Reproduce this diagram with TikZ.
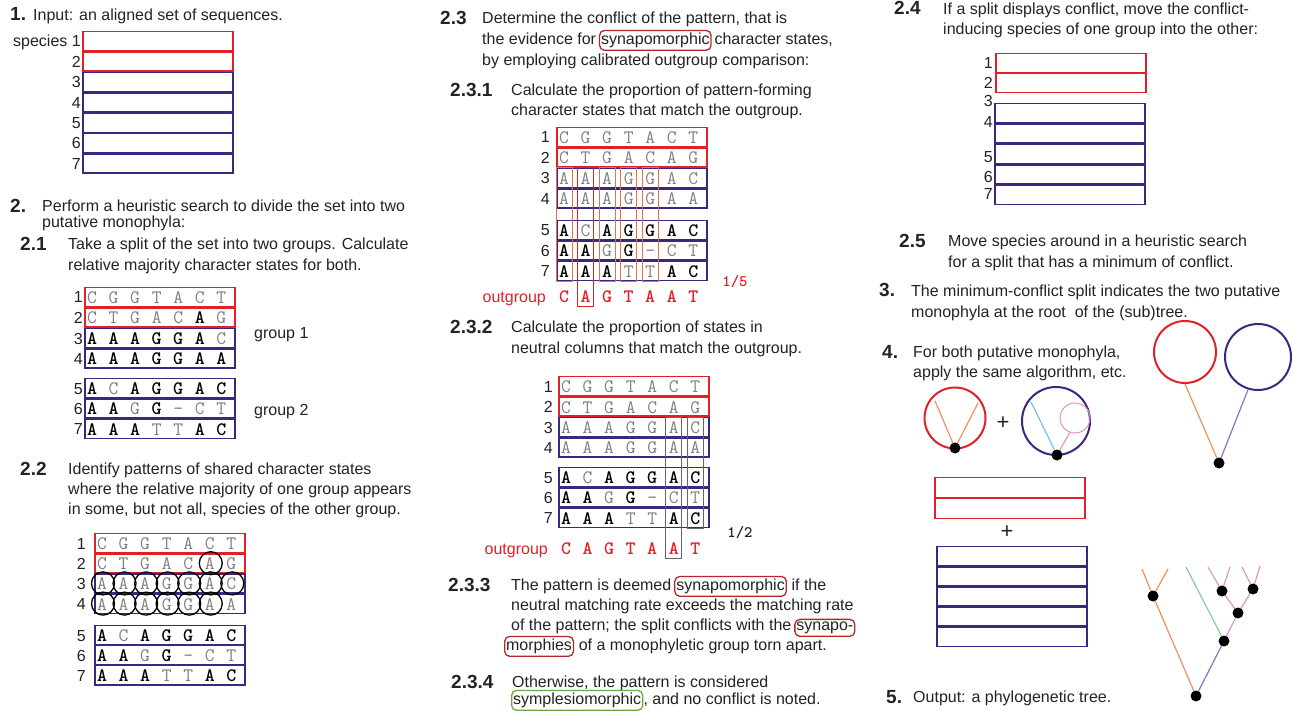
\documentclass[tikz,border=0pt]{standalone}
\usepackage{fontspec}
\setmainfont{Liberation Sans}
\definecolor{grpred}{RGB}{226,32,40}
\definecolor{grpblue}{RGB}{58,40,128}
\definecolor{synred}{RGB}{180,40,45}
\definecolor{symgreen}{RGB}{105,170,60}
\definecolor{colorange}{RGB}{236,112,72}
\definecolor{colred}{RGB}{210,40,35}
\definecolor{brorange}{RGB}{240,145,95}
\definecolor{brpurple}{RGB}{140,115,190}
\definecolor{brpink}{RGB}{222,150,195}
\definecolor{brgreen}{RGB}{140,205,155}
\definecolor{brblue}{RGB}{120,195,235}
\definecolor{ink}{RGB}{35,35,35}

\tikzset{
  txt/.style={anchor=base west, inner sep=0pt, text=ink, font=\fontsize{16}{18}\selectfont},
  hd/.style={anchor=base west, inner sep=0pt, text=ink, font=\bfseries\fontsize{19}{21}\selectfont},
  numlab/.style={anchor=base east, inner sep=0pt, text=ink, font=\fontsize{16}{18}\selectfont},
  normch/.style={anchor=base, inner sep=0pt, text=black!50, font=\ttfamily\fontsize{19}{20}\selectfont},
  boldch/.style={anchor=base, inner sep=0pt, text=black, font=\ttfamily\bfseries\fontsize{19}{20}\selectfont},
  chs/.code={\ifnum#1=1 \tikzset{boldch}\else\tikzset{normch}\fi},
  outch/.style={boldch, text=grpred},
  ratio/.style={anchor=center, inner sep=0pt, font=\ttfamily\bfseries\fontsize{16}{16}\selectfont},
  rowframe/.style={line width=1.7pt},
  wbox/.style={draw=synred, line width=1.3pt, rounded corners=5pt, anchor=base west,
    inner xsep=1.5pt, inner ysep=2.5pt, text=ink, font=\fontsize{16}{18}\selectfont},
  colbox/.style={draw=colorange, line width=1pt},
  graybox/.style={draw=black!60, line width=1pt},
  circ/.style={draw=black, line width=1.3pt},
  br/.style={line width=1.2pt},
  dot/.style={fill=black},
  plus/.style={anchor=center, inner sep=0pt, text=ink, font=\fontsize{22}{22}\selectfont},
}

% character rows: letter/bold-flag
\def\alnA{C/0,G/0,G/0,T/0,A/0,C/0,T/0}
\def\alnB{C/0,T/0,G/0,A/0,C/0,A/0,G/0}
\def\alnBb{C/0,T/0,G/0,A/0,C/0,A/1,G/0}
\def\alnC{A/0,A/0,A/0,G/0,G/0,A/0,C/0}
\def\alnCb{A/1,A/1,A/1,G/1,G/1,A/1,C/0}
\def\alnD{A/0,A/0,A/0,G/0,G/0,A/0,A/0}
\def\alnDb{A/1,A/1,A/1,G/1,G/1,A/1,A/1}
\def\alnE{A/1,C/0,A/1,G/1,G/1,A/1,C/1}
\def\alnF{A/1,A/1,G/0,G/1,-/0,C/0,T/0}
\def\alnG{A/1,A/1,A/1,T/0,T/0,A/1,C/1}

% one framed row; frames of neighbouring rows sit side by side
% #1 left, #2 top, #3 frame colour, #4 number x, #5 number, #6 row list, #7 name prefix
\newcommand\seqrow[7]{%
  \draw[rowframe, draw=#3] (#1,#2+0.6) rectangle ++(150,19.2);
  \node[numlab] (#7n#5) at (#4,#2+16) {#5};
  \foreach \ltr/\flg [count=\k from 0] in #6 {
    \node[chs=\flg] (#7r#5c\k) at (#1+7+21.55*\k,#2+16.5) {\ltr};
  }%
}
% #1 left of alignment, #2 baseline, #3 label right end, #4 name
\newcommand\outrow[4]{%
  \node[txt, anchor=base east, text=grpred] (#4) at (#3,#2) {outgroup};
  \foreach \ltr [count=\k from 0] in {C,A,G,T,A,A,T} {
    \node[outch] (#4c\k) at (#1+7+21.55*\k,#2) {\ltr};
  }%
}
% plain frame rows: #1 left, #2 colour, #3 height, #4 list of tops
\newcommand\framerows[4]{%
  \foreach \top in {#4}
    \draw[rowframe, draw=#2] (#1,\top+0.6) rectangle ++(150,#3-1.2);
}

\begin{document}
\begin{tikzpicture}[x=1pt,y=-1pt]
\useasboundingbox (0,0) rectangle (1293,711);
\fill[white] (0,0) rectangle (1293,711);

% ---------- 1. input
\node[hd] (s1) at (10,21) {1.};
\node[txt] (s1t) at (33,20.5) {Input: an aligned set of sequences.};
\framerows{83}{grpred}{20.4}{31,51.4}
\framerows{83}{grpblue}{20.4}{71.8,92.2,112.6,133,153.4}
\foreach \top [count=\r] in {31,51.4,71.8,92.2,112.6,133,153.4}
  \node[numlab] (s1n\r) at (81,\top+16) {\ifnum\r=1 species 1\else\r\fi};

% ---------- 2. heuristic search
\node[hd] (s2) at (10,212.5) {2.};
\node[txt] (s2a) at (42,211.5) {Perform a heuristic search to divide the set into two};
\node[txt] (s2b) at (42,227.5) {putative monophyla:};

% 2.1
\node[hd] (s21) at (20,250.5) {2.1};
\node[txt] (s21a) at (68,249.5) {Take a split of the set into two groups. Calculate};
\node[txt] (s21b) at (68,270.5) {relative majority character states for both.};
\seqrow{85}{287}{grpred}{83}{1}{\alnA}{a}
\seqrow{85}{307.4}{grpred}{83}{2}{\alnBb}{a}
\seqrow{85}{328}{grpblue}{83}{3}{\alnCb}{a}
\seqrow{85}{348.4}{grpblue}{83}{4}{\alnDb}{a}
\seqrow{85}{378}{grpblue}{83}{5}{\alnE}{a}
\seqrow{85}{398.4}{grpblue}{83}{6}{\alnF}{a}
\seqrow{85}{418.8}{grpblue}{83}{7}{\alnG}{a}
\node[txt] (g1) at (254,338.5) {group 1};
\node[txt] (g2) at (254,415.5) {group 2};

% 2.2
\node[hd] (s22) at (20,475.5) {2.2};
\node[txt] (s22a) at (68,474.5) {Identify patterns of shared character states};
\node[txt] (s22b) at (68,494.5) {where the relative majority of one group appears};
\node[txt] (s22c) at (68,514.5) {in some, but not all, species of the other group.};
\seqrow{95}{533}{grpred}{86}{1}{\alnA}{b}
\seqrow{95}{553.2}{grpred}{86}{2}{\alnB}{b}
\seqrow{95}{573.4}{grpblue}{86}{3}{\alnC}{b}
\seqrow{95}{593.6}{grpblue}{86}{4}{\alnD}{b}
\seqrow{95}{625}{grpblue}{86}{5}{\alnE}{b}
\seqrow{95}{645}{grpblue}{86}{6}{\alnF}{b}
\seqrow{95}{665}{grpblue}{86}{7}{\alnG}{b}
\draw[circ] (95+7+21.55*5+1,553.2+10) circle (11.5);
\foreach \k in {0,...,6} \draw[circ] (95+7+21.55*\k+1,573.4+10) circle (11.5);
\foreach \k in {0,...,5} \draw[circ] (95+7+21.55*\k+1,593.6+10) circle (11.5);

% ---------- 2.3 conflict
\node[hd] (s23) at (440,24.5) {2.3};
\node[txt] (s23a) at (482,23.5) {Determine the conflict of the pattern, that is};
\node[txt] (s23b) at (482,44.5) {the evidence for\,};
\node[wbox] (w23) at (s23b.base east) {synapomorphic};
\node[txt] (s23c) at (w23.base east) {\,character states,};
\node[txt] (s23d) at (482,65.5) {by employing calibrated outgroup comparison:};

% 2.3.1
\node[hd] (s231) at (450,96.5) {2.3.1};
\node[txt] (s231a) at (511,95.5) {Calculate the proportion of pattern-forming};
\node[txt] (s231b) at (511,115.5) {character states that match the outgroup.};
\seqrow{557}{127}{grpred}{550}{1}{\alnA}{c}
\seqrow{557}{147.5}{grpred}{550}{2}{\alnB}{c}
\seqrow{557}{168}{grpblue}{550}{3}{\alnC}{c}
\seqrow{557}{188.4}{grpblue}{550}{4}{\alnD}{c}
\seqrow{557}{220}{grpblue}{550}{5}{\alnE}{c}
\seqrow{557}{240.4}{grpblue}{550}{6}{\alnF}{c}
\seqrow{557}{260.8}{grpblue}{550}{7}{\alnG}{c}
\foreach \k in {0,2,3,4}
  \draw[colbox] (564+21.55*\k-8,168) rectangle (564+21.55*\k+8,281.2);
\draw[colbox, draw=colred] (564+21.55-8,168) rectangle (564+21.55+8,307);
\outrow{557}{303}{546}{og1}
\node[ratio, text=grpred] (r15) at (735,282) {1/5};

% 2.3.2
\node[hd] (s232) at (450,333.5) {2.3.2};
\node[txt] (s232a) at (511,332.5) {Calculate the proportion of states in};
\node[txt] (s232b) at (511,353.5) {neutral columns that match the outgroup.};
\seqrow{559}{376}{grpred}{553}{1}{\alnA}{d}
\seqrow{559}{396.5}{grpred}{553}{2}{\alnB}{d}
\seqrow{559}{417}{grpblue}{553}{3}{\alnC}{d}
\seqrow{559}{437.4}{grpblue}{553}{4}{\alnD}{d}
\seqrow{559}{467}{grpblue}{553}{5}{\alnE}{d}
\seqrow{559}{487.4}{grpblue}{553}{6}{\alnF}{d}
\seqrow{559}{507.8}{grpblue}{553}{7}{\alnG}{d}
\draw[graybox] (566+21.55*5-8,417) rectangle ++(16,141);
\draw[graybox] (566+21.55*6-8,417) rectangle ++(16,111.2);
\outrow{559}{554}{548}{og2}
\node[ratio, text=ink] (r12) at (740,533) {1/2};

% 2.3.3
\node[hd] (s233) at (448,591.5) {2.3.3};
\node[txt] (s233a) at (511,590.5) {The pattern is deemed\,};
\node[wbox] (w233a) at (s233a.base east) {synapomorphic};
\node[txt] (s233b) at (w233a.base east) {\ if the};
\node[txt] (s233c) at (511,610.5) {neutral matching rate exceeds the matching rate};
\node[txt] (s233d) at (511,630.5) {of the pattern; the split conflicts with the\,};
\node[wbox] (w233b) at (s233d.base east) {synapo-};
\node[wbox] (w233c) at (504,650.5) {morphies};
\node[txt] (s233e) at (w233c.base east) {\ of a monophyletic group torn apart.};

% 2.3.4
\node[hd] (s234) at (451,688) {2.3.4};
\node[txt] (s234a) at (512,687) {Otherwise, the pattern is considered};
\node[wbox, draw=symgreen] (w234) at (511,704.5) {symplesiomorphic};
\node[txt] (s234b) at (w234.base east) {, and no conflict is noted.};

% ---------- 2.4 moving species
\node[hd] (s24) at (894,15) {2.4};
\node[txt] (s24a) at (943,14.5) {If a split displays conflict, move the conflict-};
\node[txt] (s24b) at (943,34.5) {inducing species of one group into the other:};
\framerows{996}{grpred}{20}{53,73}
\framerows{995}{grpblue}{20.4}{103,123.4,143.8,164.2,184.6}
\foreach \y [count=\r] in {63,83,101,122,157,177,194}
  \node[numlab] (s24n\r) at (993,\y+5.5) {\r};

% 2.5
\node[hd] (s25) at (899,247.5) {2.5};
\node[txt] (s25a) at (948,246.5) {Move species around in a heuristic search};
\node[txt] (s25b) at (948,267.5) {for a split that has a minimum of conflict.};

% ---------- 3.
\node[hd] (s3) at (879,297) {3.};
\node[txt] (s3a) at (911,296.5) {The minimum-conflict split indicates the two putative};
\node[txt] (s3b) at (911,317.5) {monophyla at the root\ \ of the (sub)tree.};

% ---------- 4.
\node[hd] (s4) at (882,358.5) {4.};
\node[txt] (s4a) at (913,357.5) {For both putative monophyla,};
\node[txt] (s4b) at (913,377.5) {apply the same algorithm, etc.};

% two monophyla, each with its own split
\node[draw=grpred, line width=2pt, circle, minimum size=61pt, inner sep=0pt] (cr) at (955,418) {};
\coordinate (crd) at (955,448);
\coordinate (cra) at (935,401);
\coordinate (crb) at (978,403);
\draw[br, brorange] (crd) -- (cra);
\draw[br, brorange] (crd) -- (crb);
\fill[dot] (crd) circle (5.5);
\node[plus] (p4a) at (1003,423) {+};
\node[draw=grpblue, line width=2pt, circle, minimum size=68pt, inner sep=0pt] (cb) at (1056,421) {};
\node[draw=brpink, line width=1pt, circle, minimum size=30pt, inner sep=0pt] (cp) at (1075,418) {};
\coordinate (cbd) at (1057,455);
\coordinate (cba) at (1031,402);
\draw[br, brblue] (cbd) -- (cba);
\draw[br, brpink] (cbd) -- (cp.-110);
\fill[dot] (cbd) circle (5.5);

% the root split
\node[draw=grpred, line width=2pt, circle, minimum size=62pt, inner sep=0pt] (bigr) at (1185,352) {};
\node[draw=grpblue, line width=2pt, circle, minimum size=66pt, inner sep=0pt] (bigb) at (1258,357) {};
\coordinate (bigd) at (1219,463);
\draw[br, brorange] (bigd) -- (bigr.south);
\draw[br, brpurple] (bigd) -- (bigb.-107);
\fill[dot] (bigd) circle (5.5);

% split alignments
\framerows{935}{grpred}{21}{477,498}
\node[plus] (p4b) at (1007,532) {+};
\framerows{937}{grpblue}{20.2}{546,566.2,586.4,606.6,626.8}

% ---------- 5. output tree
\node[hd] (s5) at (886,703.5) {5.};
\node[txt] (s5a) at (913,702.5) {Output: a phylogenetic tree.};
\coordinate (rt) at (1196,696);
\coordinate (ta) at (1153,596);
\coordinate (la1) at (1142,569);
\coordinate (la2) at (1168,569);
\coordinate (tb) at (1224,641);
\coordinate (lg) at (1186,567);
\coordinate (tc) at (1238,613);
\coordinate (td) at (1222,591);
\coordinate (te) at (1253,589);
\coordinate (ld1) at (1208,567);
\coordinate (ld2) at (1230,567);
\coordinate (le1) at (1242,567);
\coordinate (le2) at (1260,566);
\draw[br, brorange] (rt) -- (ta) -- (la1);
\draw[br, brorange] (ta) -- (la2);
\draw[br, brpurple] (rt) -- (tb);
\draw[br, brgreen] (tb) -- (lg);
\draw[br, brpink] (tb) -- (tc) -- (td) -- (ld1);
\draw[br, brpink] (td) -- (ld2);
\draw[br, brpink] (tc) -- (te) -- (le1);
\draw[br, brpink] (te) -- (le2);
\foreach \n in {rt,ta,tb,tc,td,te} \fill[dot] (\n) circle (5.5);
\end{tikzpicture}
\end{document}
